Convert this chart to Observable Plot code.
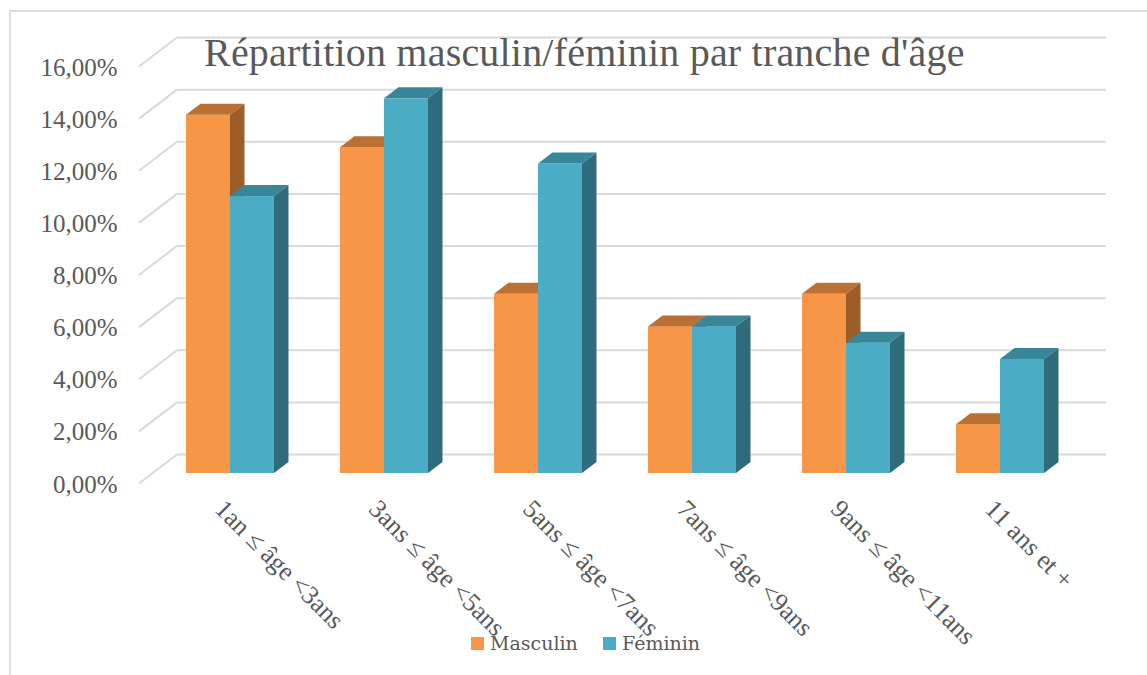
<!DOCTYPE html>
<html><head><meta charset="utf-8">
<script src="https://cdn.jsdelivr.net/npm/d3@7"></script>
<script src="https://cdn.jsdelivr.net/npm/@observablehq/plot@0.6"></script>
<style>
html,body{margin:0;padding:0;background:#fff;}
#wrap{position:relative;width:1147px;height:675px;overflow:hidden;background:#fff;}
#frame{position:absolute;left:9px;top:10px;width:1200px;height:700px;border-left:2px solid #dcdcdc;border-top:2px solid #dcdcdc;}
#chart{position:absolute;left:0;top:0;}
#title{position:absolute;left:204px;top:33px;font:40px/40px "Liberation Serif",serif;letter-spacing:0.2px;color:#595959;white-space:nowrap;}
.leg{position:absolute;top:634px;font:19px/19px "DejaVu Serif",serif;color:#595959;white-space:nowrap;}
.sw{position:absolute;left:0;top:3px;width:13px;height:13px;}
.leg .t{position:absolute;left:19px;top:0;}
</style>
</head><body>
<div id="wrap">
  <div id="frame"></div>
  <div id="chart"></div>
  <div id="title">Répartition masculin/féminin par tranche d'âge</div>
  <div class="leg" style="left:471px"><div class="sw" style="background:#F79646"></div><span class="t">Masculin</span></div>
  <div class="leg" style="left:603px"><div class="sw" style="background:#4BACC6"></div><span class="t">Féminin</span></div>
</div>
<script>
// ---- data ----
const categories = ["1an ≤ âge <3ans", "3ans ≤ âge <5ans", "5ans ≤ âge <7ans", "7ans ≤ âge <9ans", "9ans ≤ âge <11ans", "11 ans et +"];
const masculin = [0.1375, 0.125, 0.06875, 0.05625, 0.06875, 0.01875];
const feminin  = [0.10625, 0.14375, 0.11875, 0.05625, 0.05, 0.04375];
const yTicks = [0, 0.02, 0.04, 0.06, 0.08, 0.10, 0.12, 0.14, 0.16];
const yTickLabels = ["0,00%", "2,00%", "4,00%", "6,00%", "8,00%", "10,00%", "12,00%", "14,00%", "16,00%"];

// ---- layout / style ----
const W = 1147, H = 675;
const mL = 118.6, mR = 35.6, mT = 56, mB = 202;
const pad = 0.43;
const depthX = 14.5, depthY = -11;
const wallDy = -19;
const txt = "#595959", grid = "#D9D9D9";
const colM = {front: "#F79646", top: "#BA7033", side: "#9C5D27"};
const colF = {front: "#4BACC6", top: "#38869A", side: "#2F6C7B"};

const mRows = categories.map((c, i) => ({cat: c, v: masculin[i]}));
const fRows = categories.map((c, i) => ({cat: c, v: feminin[i]}));
const half = d3.scaleBand().domain(categories).range([mL, W - mR]).padding(pad).bandwidth() / 2;

const chart = Plot.plot({
  width: W, height: H,
  marginLeft: mL, marginRight: mR, marginTop: mT, marginBottom: mB,
  x: {domain: categories, padding: pad, axis: null},
  y: {domain: [0, 0.16], axis: null},
  style: {background: "transparent", overflow: "visible"},
  marks: [
    Plot.ruleY(yTicks, {y: d => d, stroke: grid, strokeWidth: 2, dy: wallDy, insetLeft: 58.4, insetRight: 5.4, ariaDescription: "wall"}),
    Plot.text(yTicks, {y: d => d, text: (d, i) => yTickLabels[i], frameAnchor: "left", textAnchor: "end", dx: -1.5, dy: 11, fill: txt, fontSize: 25, fontFamily: "Liberation Serif"}),
    Plot.barY(mRows, {x: "cat", y: "v", fill: colM.front, insetRight: half, ariaDescription: "bar-m"}),
    Plot.barY(fRows, {x: "cat", y: "v", fill: colF.front, insetLeft: half, ariaDescription: "bar-f"}),
    Plot.text(categories, {x: d => d, text: d => d, frameAnchor: "bottom", rotate: 45, textAnchor: "start", dx: -17, dy: 37, fill: txt, fontSize: 26, fontFamily: "Liberation Serif"})
  ]
});
document.getElementById("chart").appendChild(chart);

const ns = "http://www.w3.org/2000/svg";
function el(tag, attrs) {
  const e = document.createElementNS(ns, tag);
  for (const k in attrs) e.setAttribute(k, attrs[k]);
  return e;
}
// diagonals joining the labels to the back wall
chart.querySelectorAll('g[aria-description="wall"] line').forEach(l => {
  const x1 = +l.getAttribute("x1"), y = +l.getAttribute("y1");
  l.parentNode.appendChild(el("line", {x1: x1 - 38, y1: y + 29, x2: x1, y2: y, stroke: grid, "stroke-width": 2}));
});
// 3D faces derived from the rendered bars
function cube(label, c) {
  chart.querySelectorAll(`g[aria-description="${label}"] rect`).forEach(r => {
    const x = +r.getAttribute("x"), y = +r.getAttribute("y");
    const w = +r.getAttribute("width"), h = +r.getAttribute("height");
    const x2 = x + w, y2 = y + h;
    const pts = a => a.map(p => p.join(",")).join(" ");
    const top = el("polygon", {points: pts([[x, y], [x2, y], [x2 + depthX, y + depthY], [x + depthX, y + depthY]]), fill: c.top});
    const side = el("polygon", {points: pts([[x2, y], [x2 + depthX, y + depthY], [x2 + depthX, y2 + depthY], [x2, y2]]), fill: c.side});
    r.after(top, side);
  });
}
cube("bar-m", colM);
cube("bar-f", colF);
</script>
</body></html>
